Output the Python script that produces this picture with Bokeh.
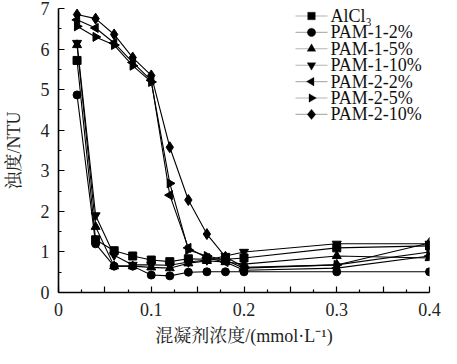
import math
from bokeh.plotting import figure
from bokeh.models import FixedTicker, Label, PolyAnnotation, Range1d
from bokeh.embed import file_html
from bokeh.resources import INLINE

# ---- data ----
dose = [0.02, 0.04, 0.06, 0.08, 0.10, 0.12, 0.14, 0.16, 0.18, 0.20, 0.30, 0.40]
series_names = ["AlCl\u2083", "PAM-1-2%", "PAM-1-5%", "PAM-1-10%", "PAM-2-2%", "PAM-2-5%", "PAM-2-10%"]
alcl3     = [5.72, 1.30, 1.03, 0.90, 0.80, 0.76, 0.83, 0.82, 0.82, 0.85, 1.10, 1.15]
pam1_2    = [4.87, 1.20, 0.65, 0.65, 0.43, 0.41, 0.50, 0.51, 0.51, 0.51, 0.51, 0.51]
pam1_5    = [6.10, 1.62, 0.65, 0.65, 0.62, 0.60, 0.72, 0.78, 0.75, 0.70, 0.90, 0.85]
pam1_10   = [6.15, 1.90, 0.92, 0.68, 0.68, 0.67, 0.75, 0.80, 0.90, 1.00, 1.20, 1.20]
pam2_2    = [6.72, 6.52, 6.15, 5.67, 5.23, 2.40, 1.10, 0.85, 0.75, 0.55, 0.60, 0.90]
pam2_5    = [6.56, 6.30, 6.10, 5.59, 5.19, 2.69, 1.05, 0.90, 0.80, 0.60, 0.68, 1.00]
pam2_10   = [6.85, 6.75, 6.36, 5.79, 5.35, 3.58, 2.28, 1.44, 0.88, 0.62, 0.68, 1.22]
x_ticks = [0, 0.05, 0.1, 0.15, 0.2, 0.25, 0.3, 0.35, 0.4]
x_tick_labels = ["0", "", "0.1", "", "0.2", "", "0.3", "", "0.4"]
x_minor = [0.025, 0.075, 0.125, 0.175, 0.225, 0.275, 0.325, 0.375]
y_ticks = [0, 1, 2, 3, 4, 5, 6, 7]
y_minor = [0.5, 1.5, 2.5, 3.5, 4.5, 5.5, 6.5]

values = [alcl3, pam1_2, pam1_5, pam1_10, pam2_2, pam2_5, pam2_10]
markers = ["square", "circle", "triangle", "inverted_triangle", "triangle", "triangle", "diamond"]
angles = [0, 0, 0, 0, math.pi / 2, -math.pi / 2, 0]
sizes = [8, 8, 9, 9, 9, 9, 11]
shapes = ["square", "circle", "up", "down", "left", "right", "diamond"]

SERIF = "'Liberation Serif', 'Times New Roman', serif"
CJK = "'Liberation Serif', 'Noto Serif CJK SC', 'Noto Sans CJK SC', serif"

FW, FH = 441, 348
BL, BR, BT, BB = 54, 12, 8, 56

p = figure(width=FW, height=FH, output_backend="svg", toolbar_location=None,
           x_range=Range1d(0, 0.4), y_range=Range1d(0, 7),
           min_border_left=BL, min_border_right=BR, min_border_top=BT, min_border_bottom=BB)
p.outline_line_color = None
p.grid.visible = False
p.background_fill_color = "white"

for vals, mk, ang, sz in zip(values, markers, angles, sizes):
    p.line(dose, vals, line_color="black", line_width=1.1)
    p.scatter(dose, vals, marker=mk, angle=ang, size=sz,
              fill_color="black", line_color="black")

# ---- hand-built legend (screen units, relative to the plot frame) ----
frame_h = FH - BT - BB
row0, row_step = 7.5, 16.4
key_x0, key_x1, key_mid, text_x = 237, 269, 253, 272


def shape_pts(kind, cx, cy):
    r = 4.3
    if kind == "square":
        r = 3.8
        return [cx - r, cx + r, cx + r, cx - r], [cy - r, cy - r, cy + r, cy + r]
    if kind == "circle":
        n = 20
        return ([cx + 4.2 * math.cos(2 * math.pi * k / n) for k in range(n)],
                [cy + 4.2 * math.sin(2 * math.pi * k / n) for k in range(n)])
    if kind == "diamond":
        return [cx, cx + 4.2, cx, cx - 4.2], [cy + 5.2, cy, cy - 5.2, cy]
    h = r * math.sqrt(3)
    a = h / 3
    if kind == "up":
        return [cx - r, cx + r, cx], [cy - a, cy - a, cy - a + h]
    if kind == "down":
        return [cx - r, cx + r, cx], [cy + a, cy + a, cy + a - h]
    if kind == "left":
        return [cx + a, cx + a, cx + a - h], [cy - r, cy + r, cy]
    return [cx - a, cx - a, cx - a + h], [cy - r, cy + r, cy]


for i, (name, kind) in enumerate(zip(series_names, shapes)):
    cy = frame_h - (row0 + i * row_step)
    p.add_layout(PolyAnnotation(xs=[key_x0, key_x1], ys=[cy, cy],
                                xs_units="screen", ys_units="screen",
                                line_color="black", line_width=1.1, fill_alpha=0))
    xs, ys = shape_pts(kind, key_mid, cy)
    p.add_layout(PolyAnnotation(xs=xs, ys=ys, xs_units="screen", ys_units="screen",
                                line_color="black", line_width=1, fill_color="black",
                                fill_alpha=1))
    p.add_layout(Label(x=text_x, y=cy, x_units="screen", y_units="screen", text=name,
                       text_font=SERIF, text_font_size="18px", text_color="#111111",
                       text_baseline="middle", text_align="left"))

xa = p.xaxis[0]
xa.ticker = FixedTicker(ticks=x_ticks, minor_ticks=x_minor)
xa.major_label_overrides = {t: l for t, l in zip(x_ticks, x_tick_labels)}
ya = p.yaxis[0]
ya.ticker = FixedTicker(ticks=y_ticks, minor_ticks=y_minor)

for ax in (xa, ya):
    ax.axis_line_width = 1.6
    ax.axis_line_color = "black"
    ax.major_tick_in = 6
    ax.major_tick_out = 0
    ax.minor_tick_in = 3
    ax.minor_tick_out = 0
    ax.major_tick_line_color = "black"
    ax.minor_tick_line_color = "black"
    ax.major_tick_line_width = 1.2
    ax.minor_tick_line_width = 1.2
    ax.major_label_text_font = SERIF
    ax.major_label_text_font_size = "18px"
    ax.major_label_text_color = "#222222"
    ax.axis_label_text_font = CJK
    ax.axis_label_text_font_size = "18px"
    ax.axis_label_text_font_style = "normal"
    ax.axis_label_text_color = "#222222"

xa.axis_label = "混凝剂浓度/(mmol·L\u207b\u00b9)"
xa.major_label_standoff = 10
xa.axis_label_standoff = 7
ya.axis_label = "浊度/NTU"
ya.major_label_standoff = 9
ya.axis_label_standoff = 14

open("out.html", "w").write(file_html(p, INLINE))
